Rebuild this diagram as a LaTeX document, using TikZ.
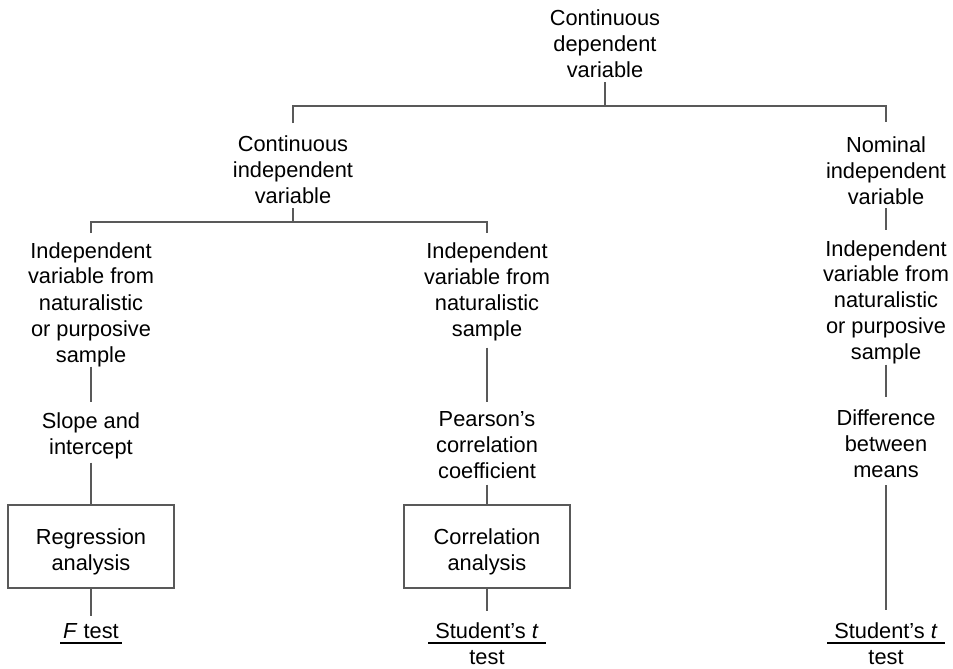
\documentclass[tikz,border=0pt]{standalone}
\usepackage{fontspec}
\setmainfont{Liberation Sans}
\begin{document}
\begin{tikzpicture}[x=1pt,y=-1pt,
  lbl/.style={align=center,inner sep=0pt,anchor=north,
              font=\fontsize{21.8}{26}\selectfont},
  boxnode/.style={draw=black!65,line width=1.2pt,minimum width=166pt,
              minimum height=83pt,inner sep=0pt,align=center,
              font=\fontsize{21.8}{26}\selectfont},
  conn/.style={draw=black!65,line width=1.2pt},
  uline/.style={draw=black,line width=1.2pt}]
\useasboundingbox (0,0) rectangle (953,669);

% text nodes of the decision tree
\node[lbl] (root) at (605,10)  {Continuous\\dependent\\variable};
\node[lbl] (cci)  at (293,136) {Continuous\\independent\\variable};
\node[lbl] (nom)  at (886,137) {Nominal\\independent\\variable};
\node[lbl] (iv1)  at (91,242)  {Independent\\variable from\\naturalistic\\or purposive\\sample};
\node[lbl] (iv2)  at (487,243) {Independent\\variable from\\naturalistic\\sample};
\node[lbl] (iv3)  at (886,240) {Independent\\variable from\\naturalistic\\or purposive\\sample};
\node[lbl] (slope) at (91,412) {Slope and\\intercept};
\node[lbl] (pear) at (487,411) {Pearson’s\\correlation\\coefficient};
\node[lbl] (diff) at (886,409) {Difference\\between\\means};
% boxed analyses; the strut sets the text a little low in the box
\node[boxnode] (reg) at (91,546.5)  {\rule{0pt}{27pt}Regression\\analysis};
\node[boxnode] (cor) at (487,546.5) {\rule{0pt}{27pt}Correlation\\analysis};
\node[lbl] (ft)  at (91,623)  {\textit{F} test};
\node[lbl] (st1) at (487,622) {Student’s \textit{t}\\test};
\node[lbl] (st2) at (886,622) {Student’s \textit{t}\\test};

% branching points
\coordinate (j1) at (605,106);
\coordinate (j2) at (293,222);

% connectors
\draw[conn] ([yshift=-4pt]root.south) -- (j1);
\draw[conn] ([yshift=13pt]cci.north) |- (j1) -| ([yshift=15pt]nom.north);
\draw[conn] ([yshift=-4pt]cci.south) -- (j2);
\draw[conn] ([yshift=9pt]iv1.north) |- (j2) -| ([yshift=10pt]iv2.north);
\draw[conn] ([yshift=-3pt]nom.south) -- ([yshift=10pt]iv3.north);
\draw[conn] (iv1.south) -- ([yshift=10pt]slope.north);
\draw[conn] ([yshift=-6pt]iv2.south) -- ([yshift=9pt]pear.north);
\draw[conn] (iv3.south) -- ([yshift=12pt]diff.north);
\draw[conn] ([yshift=-4pt]slope.south) -- (reg.north);
\draw[conn] ([yshift=-6pt]pear.south) -- (cor.north);
\draw[conn] ([yshift=-8pt]diff.south) -- ([yshift=12pt]st2.north);
\draw[conn] (reg.south) -- ([yshift=7pt]ft.north);
\draw[conn] (cor.south) -- ([yshift=11pt]st1.north);

% underlines of the test names
\draw[uline] ([xshift=-31pt,yshift=-20pt]ft.north) -- ([xshift=31pt,yshift=-20pt]ft.north);
\draw[uline] ([xshift=-59pt,yshift=-21pt]st1.north) -- ([xshift=59pt,yshift=-21pt]st1.north);
\draw[uline] ([xshift=-59pt,yshift=-21pt]st2.north) -- ([xshift=59pt,yshift=-21pt]st2.north);
\end{tikzpicture}
\end{document}
